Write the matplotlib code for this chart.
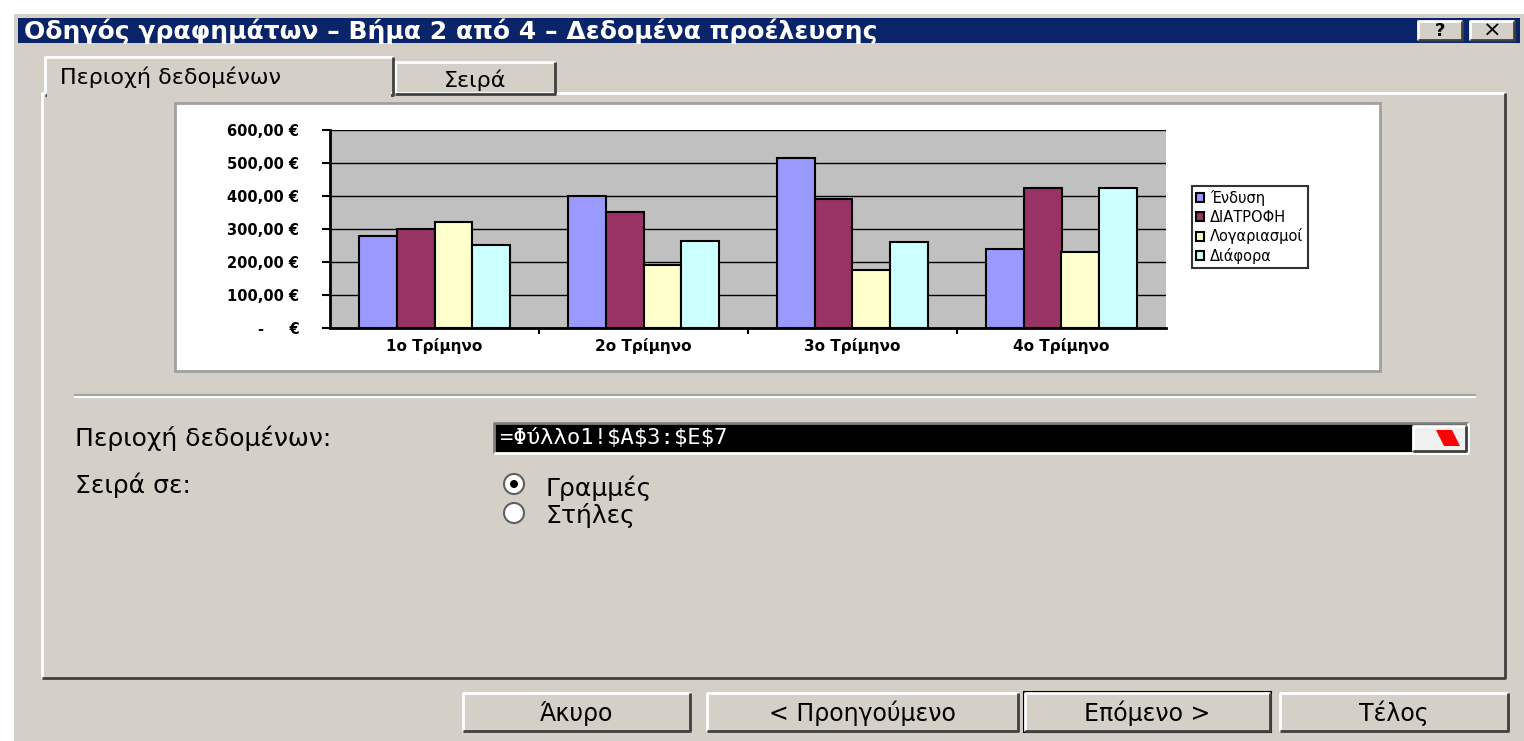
import numpy as np
import matplotlib.pyplot as plt
from matplotlib.patches import Rectangle, Circle, Polygon

# Данные графика
quarters = ['1ο Τρίμηνο', '2ο Τρίμηνο', '3ο Τρίμηνο', '4ο Τρίμηνο']
series_names = ['Ένδυση', 'ΔΙΑΤΡΟΦΗ', 'Λογαριασμοί', 'Διάφορα']
endysi = [280, 400, 515, 240]
diatrofi = [300, 350, 390, 425]
logariasmoi = [320, 190, 175, 230]
diafora = [250, 265, 260, 425]
y_ticks = [0, 100, 200, 300, 400, 500, 600]

colors = ['#9999ff', '#993366', '#ffffcc', '#ccffff']
W, H = 1524, 741
face = '#d4d0c8'

fig = plt.figure(figsize=(W / 100, H / 100), dpi=100)
fig.patch.set_facecolor('white')

# Фон диалога в пиксельных координатах
bg = fig.add_axes([0, 0, 1, 1])
bg.set_xlim(0, W)
bg.set_ylim(H, 0)
bg.axis('off')


def bevel(x0, y0, x1, y1, raised=True, fill=face, lw=2):
    bg.add_patch(Rectangle((x0, y0), x1 - x0, y1 - y0, facecolor=fill, edgecolor='none'))
    light, dark = ('white', '#404040') if raised else ('#808080', 'white')
    bg.plot([x0, x0, x1], [y1, y0, y0], color=light, lw=lw, solid_capstyle='butt')
    bg.plot([x0, x1, x1], [y1, y1, y0], color=dark, lw=lw, solid_capstyle='butt')


bg.add_patch(Rectangle((14, 14), W - 14, H - 14, facecolor=face, edgecolor='none'))

# Заголовок окна
bg.add_patch(Rectangle((18, 18), 1502, 25, facecolor='#0a246a', edgecolor='none'))
bg.text(24, 31, 'Οδηγός γραφημάτων – Βήμα 2 από 4 – Δεδομένα προέλευσης',
        color='white', fontsize=18, fontweight='bold', va='center', ha='left')
bevel(1418, 21, 1462, 40)
bg.text(1440, 31, '?', fontsize=13, fontweight='bold', ha='center', va='center')
bevel(1470, 21, 1514, 40)
bg.text(1492, 31, '×', fontsize=16, ha='center', va='center')

# Вкладки
bevel(42, 93, 1505, 678)
bevel(395, 62, 555, 94)
bg.text(475, 80, 'Σειρά', fontsize=16, ha='center', va='center')
bevel(45, 57, 393, 95)
bg.add_patch(Rectangle((47, 90), 344, 8, facecolor=face, edgecolor='none', zorder=3))
bg.text(60, 77, 'Περιοχή δεδομένων', fontsize=16, ha='left', va='center')

# Область предпросмотра
bg.add_patch(Rectangle((175, 103), 1205, 268, facecolor='white', edgecolor='#a0a0a0', lw=2))

# Разделитель
bg.plot([75, 1475], [395, 395], color='#a0a0a0', lw=1.5)
bg.plot([75, 1475], [397, 397], color='white', lw=1.5)

# Поле диапазона
bg.text(75, 438, 'Περιοχή δεδομένων:', fontsize=18, ha='left', va='center')
bevel(494, 423, 1468, 453, raised=False, fill='black')
bg.text(500, 438, '=Φύλλο1!\\$A\\$3:\\$E\\$7', color='white', fontsize=16,
        family='DejaVu Sans Mono', ha='left', va='center')
bevel(1413, 426, 1466, 451, fill='#f0f0f0')
bg.add_patch(Polygon([[1436, 430], [1452, 430], [1460, 446], [1444, 446]],
                     closed=True, facecolor='red', edgecolor='none'))

# Переключатели
bg.text(75, 485, 'Σειρά σε:', fontsize=18, ha='left', va='center')
bg.add_patch(Circle((514, 484), 10, facecolor='white', edgecolor='#606060', lw=1.5))
bg.add_patch(Circle((514, 484), 4, facecolor='black', edgecolor='none'))
bg.text(545, 488, 'Γραμμές', fontsize=18, ha='left', va='center')
bg.add_patch(Circle((514, 513), 10, facecolor='white', edgecolor='#606060', lw=1.5))
bg.text(545, 515, 'Στήλες', fontsize=18, ha='left', va='center')

# Кнопки
buttons = [(463, 690, 'Άκυρο'), (707, 1018, '< Προηγούμενο'),
           (1025, 1270, 'Επόμενο >'), (1280, 1508, 'Τέλος')]
for x0, x1, label in buttons:
    bevel(x0, 693, x1, 731)
    bg.text((x0 + x1) / 2, 713, label, fontsize=17, ha='center', va='center')
bg.add_patch(Rectangle((1024, 692), 247, 40, facecolor='none', edgecolor='black', lw=1.5))

# Диаграмма
ax = fig.add_axes([330 / W, 1 - 328 / H, 836 / W, 198 / H])
ax.set_facecolor('#c0c0c0')
x = np.arange(len(quarters))
bw = 0.18
values = [endysi, diatrofi, logariasmoi, diafora]
for i, (vals, name) in enumerate(zip(values, series_names)):
    ax.bar(x + (i - 1.5) * bw, vals, width=bw, color=colors[i], edgecolor='black',
           linewidth=1.5, label=name, zorder=3)

ax.set_xlim(-0.5, 3.5)
ax.set_ylim(0, 600)
ax.set_yticks(y_ticks)
ax.set_yticklabels(['-     €' if v == 0 else f'{v},00 €' for v in y_ticks],
                   fontsize=10.5, fontweight='bold')
ax.set_xticks(x)
ax.set_xticklabels(quarters, fontsize=11, fontweight='bold')
ax.set_xticks([0.5, 1.5, 2.5], minor=True)
ax.tick_params(axis='x', which='major', length=0, pad=7)
ax.tick_params(axis='x', which='minor', length=4, width=1.5, direction='out')
ax.tick_params(axis='y', length=6, width=1.5, direction='out', pad=16)
ax.grid(axis='y', color='black', linewidth=1, zorder=1)
ax.set_axisbelow(True)
for side in ['left', 'bottom']:
    ax.spines[side].set_linewidth(2)
ax.spines['right'].set_visible(False)
ax.spines['top'].set_visible(False)

leg = ax.legend(loc='center left', bbox_to_anchor=(1.022, 0.51), fontsize=10.5,
                frameon=True, fancybox=False, edgecolor='black', handlelength=0.55,
                handleheight=0.55, handletextpad=0.4, borderpad=0.3, labelspacing=0.25)
leg.get_frame().set_linewidth(1.5)

plt.savefig('out.png', dpi=100)
